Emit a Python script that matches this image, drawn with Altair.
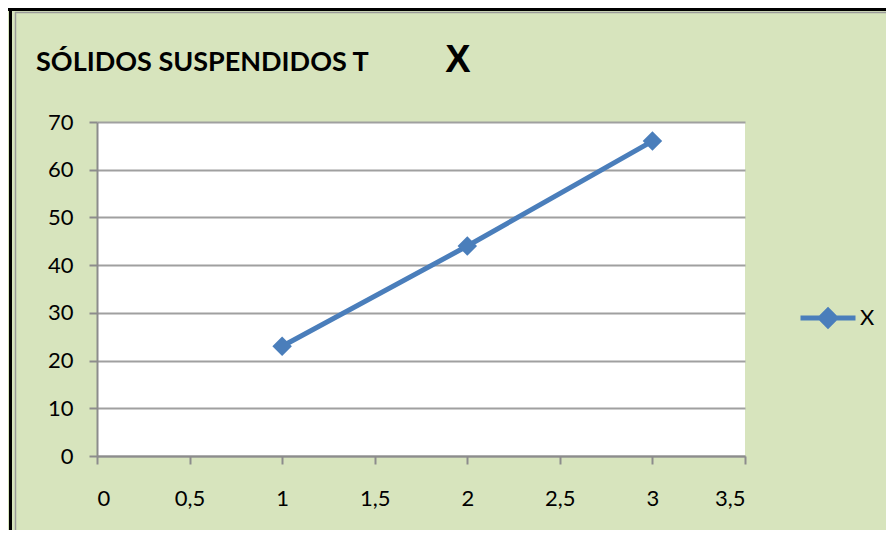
import altair as alt
import pandas as pd

# data
x_vals = [1, 2, 3]
y_vals = [23, 44, 66]
series = ["X", "X", "X"]
title_text = "SÓLIDOS SUSPENDIDOS T"
series_title = "X"

df = pd.DataFrame({"x": x_vals, "y": y_vals, "s": series})

FONT = "Lato"
BLUE = "#4a7ebb"
BG = "#d7e4bd"

x_enc = alt.X("x:Q", scale=alt.Scale(domain=[0, 3.5], nice=False, zero=False),
              axis=alt.Axis(values=[0, 0.5, 1, 1.5, 2, 2.5, 3, 3.5], grid=False, title=None,
                            labelExpr="replace(toString(datum.value), '.', ',')",
                            tickSize=8, labelPadding=24, labelFontSize=22, labelFont=FONT,
                            labelColor="black", domainColor="#8c8c8c", tickColor="#8c8c8c",
                            domainWidth=2, tickWidth=2))
y_enc = alt.Y("y:Q", scale=alt.Scale(domain=[0, 70], nice=False),
              axis=alt.Axis(values=list(range(0, 71, 10)), grid=True, gridColor="#a0a0a0",
                            gridWidth=2, title=None, tickSize=8, labelPadding=16,
                            labelFontSize=22, labelFont=FONT, labelColor="black",
                            domainColor="#8c8c8c", tickColor="#8c8c8c", domainWidth=2, tickWidth=2))

color = alt.Color("s:N", scale=alt.Scale(range=[BLUE]),
                  legend=alt.Legend(title=None, orient="none", legendX=701, legendY=166,
                                    symbolType="M-1,0L1,0M0,-0.28L0.28,0L0,0.28L-0.28,0Z",
                                    symbolSize=3025, symbolStrokeWidth=5,
                                    symbolFillColor=BLUE, symbolStrokeColor=BLUE,
                                    labelFontSize=22, labelFont=FONT, labelColor="black",
                                    labelOffset=2, padding=0))

base = alt.Chart(df)
line = base.mark_line(strokeWidth=5, color=BLUE).encode(x=x_enc, y=y_enc, color=color)
pts = base.mark_point(shape="diamond", size=380, filled=True, opacity=1, color=BLUE).encode(
    x="x:Q", y="y:Q", color=alt.Color("s:N", legend=None))

tdf = pd.DataFrame({"t": [title_text]})
title = alt.Chart(tdf).mark_text(font=FONT, fontSize=27, fontWeight="bold", align="left",
                                 baseline="middle", color="black").encode(
    x=alt.value(-61), y=alt.value(-59), text="t:N")
xdf = pd.DataFrame({"t": [series_title]})
xt = alt.Chart(xdf).mark_text(font="Liberation Sans", fontSize=38, fontWeight="bold", align="center",
                              baseline="middle", color="black").encode(
    x=alt.value(361), y=alt.value(-61), text="t:N")

bdf = pd.DataFrame({"k": [0]})
b1 = alt.Chart(bdf).mark_rule(color="black", strokeWidth=3).encode(
    x=alt.value(-86.5), y=alt.value(-114), y2=alt.value(420))
b2 = alt.Chart(bdf).mark_rule(color="black", strokeWidth=3).encode(
    x=alt.value(-89), x2=alt.value(800), y=alt.value(-112.5))
b3 = alt.Chart(bdf).mark_rule(color="#9a9a9a", strokeWidth=1.5).encode(
    x=alt.value(-81.5), y=alt.value(-110), y2=alt.value(420))
b4 = alt.Chart(bdf).mark_rule(color="#9a9a9a", strokeWidth=1.5).encode(
    x=alt.value(-82), x2=alt.value(800), y=alt.value(-109.5))

chart = alt.layer(line, pts, title, xt, b1, b2, b3, b4).properties(
    width=648, height=334,
    autosize=alt.AutoSizeParams(type="none"),
    padding={"left": 89, "top": 114, "right": 141, "bottom": 74},
    background=BG,
).configure_view(fill="white", stroke=None)

chart.save("out.html", embed_options={"renderer": "svg", "actions": False})
